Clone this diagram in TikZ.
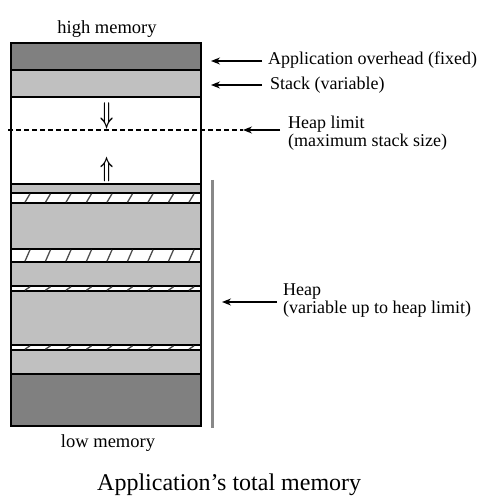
\documentclass[tikz,border=0pt]{standalone}
\usepackage{fontspec}
\setmainfont{Liberation Serif}
\usetikzlibrary{arrows.meta}
\definecolor{darkband}{RGB}{128,128,128}
\definecolor{lightband}{RGB}{192,192,192}
\definecolor{barline}{RGB}{136,136,136}
\begin{document}
\begin{tikzpicture}[x=1bp,y=-1bp,
  band/.style={draw=black, line width=1.3bp, anchor=north west, minimum width=190bp, inner sep=0pt, outer sep=0pt},
  lbl/.style={anchor=west, font=\fontsize{18bp}{18bp}\selectfont, inner sep=0pt, align=left},
  memlbl/.style={font=\fontsize{18.5bp}{19bp}\selectfont, inner sep=0pt},
  arr/.style={line width=1.3bp, -{Stealth[length=9bp,width=7bp]}},
  growsym/.style={font=\fontsize{22bp}{22bp}\selectfont\boldmath, inner sep=0pt},
  hatch/.style={line width=1.3bp, draw=darkband!60!black}]
\useasboundingbox (0,0) rectangle (485,498);
% bands
\node[band, fill=darkband,  minimum height=27bp] (oh)  at (11,43) {};
\node[band, fill=lightband, minimum height=27bp] (st)  at (11,70) {};
\node[band, fill=white,     minimum height=87bp] (fr)  at (11,97) {};
\node[band, fill=lightband, minimum height=9bp]  (h1)  at (11,184) {};
\node[band, fill=white,     minimum height=10bp] (x1)  at (11,193) {};
\node[band, fill=lightband, minimum height=46bp] (h2)  at (11,203) {};
\node[band, fill=white,     minimum height=13bp] (x2)  at (11,249) {};
\node[band, fill=lightband, minimum height=24bp] (h3)  at (11,262) {};
\node[band, fill=white,     minimum height=5bp]  (x3)  at (11,286) {};
\node[band, fill=lightband, minimum height=54bp] (h4)  at (11,291) {};
\node[band, fill=white,     minimum height=5bp]  (x4)  at (11,345) {};
\node[band, fill=lightband, minimum height=24bp] (h5)  at (11,350) {};
\node[band, fill=darkband,  minimum height=52bp] (lo)  at (11,374) {};
% hatch marks
\foreach \n in {x1,x2,x3,x4}{
  \foreach \i in {0,...,8}{
    \pgfmathsetmacro\xa{14+\i*20.5}
    \pgfmathsetmacro\xb{19+\i*20.5}
    \draw[hatch] ([xshift=\xa bp, yshift=0.8bp]\n.south west) -- ([xshift=\xb bp, yshift=-0.8bp]\n.north west);
  }
}
% outer frame
\draw[line width=2.2bp] (oh.north west) rectangle (lo.south east);
% heap limit dashed line
\coordinate (hlL) at (8,130);
\coordinate (hlR) at (243,130);
\draw[line width=1.2bp, dash pattern=on 5bp off 3bp] (hlL) -- (hlR);
% growth arrows
\node[growsym] (dn) at (107,116.5) {\scalebox{0.9}[1.45]{$\Downarrow$}};
\node[growsym] (up) at (107,170) {\scalebox{0.9}[1.35]{$\Uparrow$}};
% heap bracket line
\coordinate (hbT) at (212,180);
\coordinate (hbB) at (212,428);
\draw[draw=barline, line width=3bp] (hbT) -- (hbB);
% memory labels
\node[memlbl] (hm) at (107,29) {high memory};
\node[memlbl] (lm) at (108,443) {low memory};
\node[font=\fontsize{24bp}{24bp}\selectfont, inner sep=0pt, anchor=west] (tt) at (97,485) {Application’s total memory};
% right labels
\node[lbl] (ohL) at (268,60) {Application overhead (fixed)};
\coordinate (ohS) at (262,61);
\coordinate (ohT) at (211,61);
\draw[arr] (ohS) -- (ohT);
\node[lbl] (stL) at (270,85) {Stack (variable)};
\coordinate (stS) at (262,85);
\coordinate (stT) at (211,85);
\draw[arr] (stS) -- (stT);
\node[lbl] (hlT) at (288,133) {Heap limit\\(maximum stack size)};
\coordinate (hlS) at (280,130);
\draw[arr] (hlS) -- (hlR);
\node[lbl] (hpL) at (283,301) {Heap\\(variable up to heap limit)};
\coordinate (hpS) at (277,302);
\coordinate (hpT) at (222,302);
\draw[arr] (hpS) -- (hpT);
\end{tikzpicture}
\end{document}
